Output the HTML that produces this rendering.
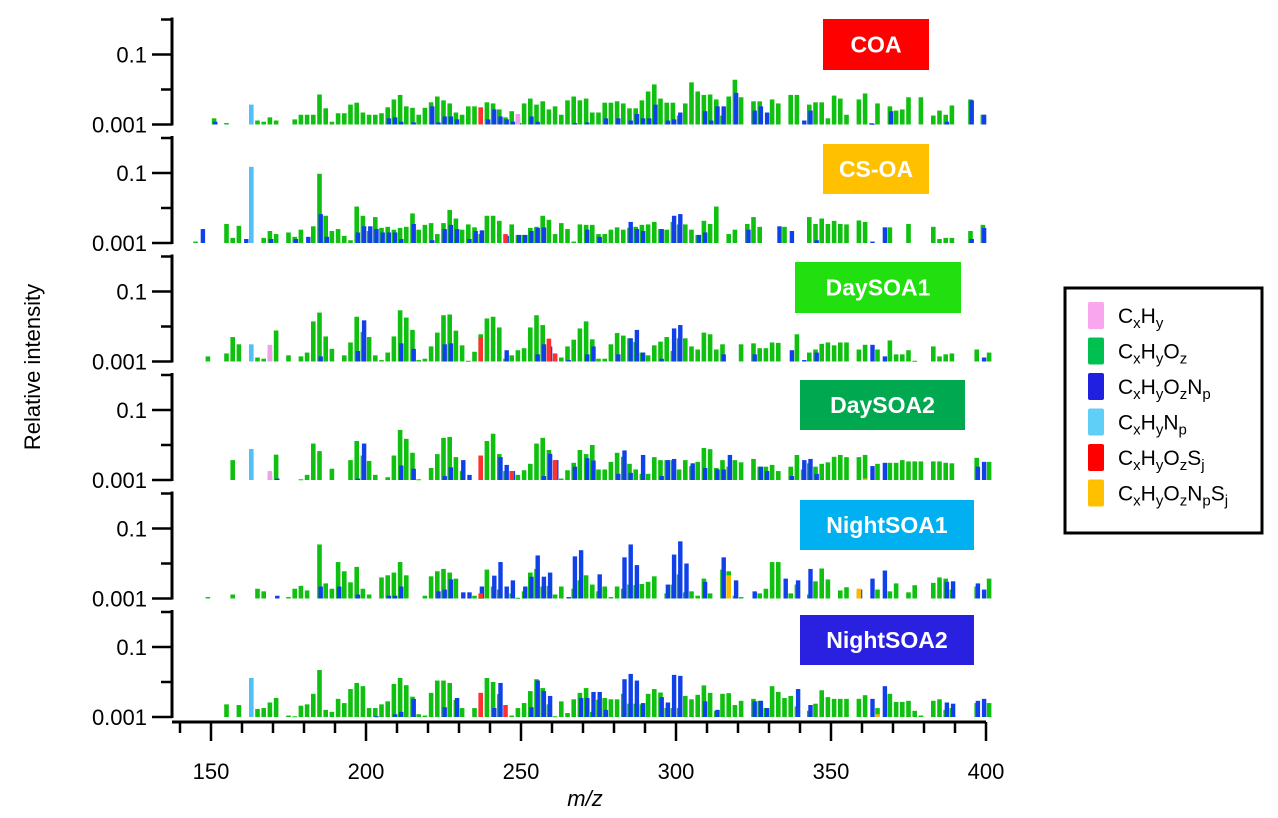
<!DOCTYPE html>
<html><head><meta charset="utf-8"><style>
body{margin:0;background:#fff;font-family:"Liberation Sans",Arial,sans-serif}
svg{display:block}
.lab{font-family:"Liberation Sans",Arial,sans-serif;font-size:22px;fill:#000}
.tag{font-family:"Liberation Sans",Arial,sans-serif;font-size:23px;font-weight:bold;fill:#fff}
.lg{font-family:"Liberation Sans",Arial,sans-serif;font-size:21px;fill:#000}
</style></head><body>
<svg id="chart" width="1278" height="818" viewBox="0 0 1278 818"></svg>
<script>
// intensities in units of 0.001 (relative intensity = value/1000); index i -> m/z = 143 + 2*i
const mzStart = 143, mzStep = 2, nBins = 130;
const panelNames = ["COA","CS-OA","DaySOA1","DaySOA2","NightSOA1","NightSOA2"];
const panelTagColors = ["#ff0000","#ffc000","#22e010","#00a850","#00b0f0","#2a20e0"];

const coaGreen = [0,0,0,0,1.5,0,1.1,0,0,0,0,1.3,1.2,1.6,1.3,0,0,1.4,1.9,1.9,1.9,7.2,2.9,1.2,2.1,2.1,3.7,4.2,2.2,1.9,1.9,2.1,3.1,5.2,7,3.3,3,1.9,3,4.3,6.3,4.9,4,2.2,1.9,3.3,3.3,0,4.3,4,2.7,1.6,2.4,1.6,4,5.5,3.7,4.6,2.7,3.3,1.9,4.9,6.3,4.9,5.5,2.2,2.2,4.2,4.2,4.6,4,2.9,2.9,4.9,8.8,14,5.5,4.2,4.2,1.8,4,16,8.8,7,7.2,5.2,1.8,6.3,19,6,0,4.6,4.6,0,5.2,4,0,7,7,0,3.7,4.3,4.3,1.5,6.7,5.5,1.9,0,5.2,7.7,1.1,4,0,3.3,2.5,2.7,6,0,6,0,1.8,2.5,1.9,3.5,0,0,5.2,0,1.9,0];
const coaBlue = {4:1.2,32:1.5,33:1.6,34:1.2,36:1.15,39:3.3,40:1.15,41:1.7,42:1.7,43:1.4,48:1.4,49:2.7,50:1.7,51:1.4,52:1.2,53:1.1,55:1.7,56:1.2,62:1.1,64:1.15,67:1.5,69:1.5,71:1.3,72:2,73:1.5,74:1.5,75:3.7,77:1.3,78:1.4,79:2.2,83:2.4,84:1.3,85:3.3,86:3.3,88:8,91:2.5,92:3.3,93:2.2,99:1.3,100:2.5,110:1.05,113:2.4,122:1.2,126:4.9,128:1.9};
const coaSpecIdx = [10,47,53];
const coaSpecVal = [3.7,3.1,2];
const coaSpecCls = ["cyan","red","pink"];

const csGreen = [0,1.1,0,0,0,0,3.5,1.4,3.1,0,0,0,1.4,2.2,1.8,0,2,1.5,2.4,0,3,95,6,2.2,2.5,1.6,1.2,11,6,2.2,5.5,2.7,2.9,2.4,2.7,2.9,7,2.4,3.3,3.7,1.8,3.7,8.8,5,2.4,3.4,2.8,1.8,6,6,4.3,0,3.4,1.7,1.7,2.7,2.9,6,4.6,1.8,3.7,2.5,1.1,3.4,3.3,3.3,1.8,1.8,2.4,2.8,2.4,2.7,2.9,3.3,3.4,4,2.5,2.4,4,3.4,3.4,2.4,1.7,4.3,3.5,11,0,1.8,2.4,0,3.5,5.5,2.9,0,0,0,2.9,0,0,0,5.5,3.5,5,3.5,4.3,3.5,3.4,0,4.4,4,0,0,0,2.8,0,0,3.5,0,0,0,2.9,1.3,1.4,1.4,0,0,2.2,0,3.3,0];
const csBlue = {2:2.5,9:1.3,13:1.3,17:1.3,19:1.5,21:6.7,22:1.5,27:2,28:3,29:3,30:2.5,31:2,32:2,33:2,34:1.3,36:3.5,39:1.2,41:2.5,42:3.3,43:2.5,45:1.3,46:2.2,47:2.3,51:1.6,53:1.7,54:1.7,55:2.2,56:2.7,57:2.8,64:2.4,66:1.5,71:4,72:2.5,73:2.2,76:2.5,78:6,79:6.7,82:1.7,83:2,90:2.4,95:3,97:2.2,101:1.2,110:1.1,112:2.8,126:1.3,128:2.7};
const csSpecIdx = [10,51];
const csSpecVal = [150,1.8];
const csSpecCls = ["cyan","red"];

const d1Green = [0,0,0,1.4,0,0,1.7,5,3.1,0,0,1.3,1.2,2,7.7,0,1.5,0,1.4,1.8,14,25,5.2,2.3,0,1.5,3.5,19,7,5,1.5,1.1,1.8,5.2,29,18,8,1.1,1.2,2.7,6.7,21,22,7.6,2.9,1.05,1.9,6,17,19,9.4,1.2,1.5,2.1,2.4,9.4,21,11,2.5,1.2,1.3,2.7,4.2,8.8,14,4.3,1.2,1.2,3.1,6.5,5.5,4.6,3.6,1.8,1.5,2.9,3.7,5,2,4.6,4.6,2.7,2.2,6.7,6,2.2,3.1,0,0,3.1,0,3.3,2.4,2.4,3.5,3.4,0,0,6,0,1.8,2.2,3.2,3.5,2.9,3.5,3.5,0,2.2,3,0,2.2,0,4,1.6,1.6,2.1,1.05,0,0,2.7,1.4,1.6,1.7,0,0,0,2.2,0,1.8];
const d1Blue = {21:1.4,27:2,28:15,34:3.3,36:2.3,41:3.1,42:3.3,51:2.1,56:1.6,57:3.1,58:2.7,61:1.1,64:1.6,65:2.7,69:1.6,71:4.6,72:8,73:1.8,76:1.2,78:8.8,79:11,86:1.6,91:1.6,97:2.1,99:1.1,101:1.8,110:3,112:1.4,128:1.3};
const d1SpecIdx = [10,13,47,58,59];
const d1SpecVal = [3.1,3,5,4.5,1.7];
const d1SpecCls = ["cyan","pink","red","red","red"];

const d2Green = [0,0,0,0,0,0,0,3.7,0,0,0,0,0,1.2,5.3,0,0,0,1.05,1.4,11,6.7,0,2.1,0,0,3.7,13,5,3.5,1.4,0,1.2,5,27,15,6,1.05,0,2.2,5.5,16,17,4.5,1.8,0,0,0,13,21,5.5,1.8,0,1.4,1.9,2.9,11,16,7.2,0,1.1,1.9,3.1,7.2,5.5,10,2,2,3.3,6,4.6,2.9,2,1.5,1.5,4.5,3.7,3.7,3.7,2,3.7,2.5,3.3,8.2,7.6,2.2,3.7,2.4,3.7,3.2,0,4,2.4,2.4,2.7,1.8,0,2.4,5.2,2,3,2.4,2.9,3.2,4.6,5.2,4.5,0,4.5,5.2,0,2.9,0,3.1,3.1,3.7,3.4,3.4,3.4,0,3.4,3.4,3.1,3,0,0,0,4.3,0,3.3];
const d2Blue = {14:1.1,27:1.1,28:11,34:2.6,36:2.1,41:1.3,42:2.3,44:3.7,45:1.4,50:4.5,51:2.7,52:1.8,57:1.3,58:5.6,59:3.7,62:2.4,64:4.2,65:3.6,69:1.5,70:7,71:1.6,73:5.2,76:1.3,77:3.7,78:4,81:3,83:2.2,85:2,86:2,87:5.2,92:2.4,93:1.8,97:1.3,99:3.7,100:4,101:1.5,110:2.5,112:3.1,127:2.4,128:3.3};
const d2SpecIdx = [10,13,47,52,59,109];
const d2SpecVal = [7.7,1.8,5,1.8,3.7,1.1];
const d2SpecCls = ["cyan","pink","red","red","red","orange"];

const n1Green = [0,0,0,1.1,0,0,0,1.3,0,0,0,1.9,1.6,0,0,0,1.1,1.9,2.3,1.7,0,35,2.7,1.9,11,6,2.9,8,1.9,1.3,0,4,4.6,5.5,11,4.6,0,0,1.2,4.3,6,7,5.5,3.7,0,0,1.2,1.05,6.7,2.2,1.8,0,1.4,1.05,1.6,5.5,7,2.2,2.3,1.3,2.2,0,1.9,3.3,4.6,2.5,1.6,2.2,1.1,2.2,1.9,2.5,2.4,2.6,3,4.3,0,1.4,2.5,4.9,1.5,1.6,1.2,3.7,1.4,0,6.7,6,1.2,1.1,0,0,1.4,1.9,11,11,0,1.4,2.5,0,1.3,3.1,7.2,3.5,0,1.7,2.1,0,1.6,0,0,1.8,0,1.6,2.7,0,1.5,2.4,0,0,2.8,4,3.7,1.8,0,0,0,2.2,0,3.7];
const n1Blue = {14:1.2,21:2.2,24:2.2,27:1.3,32:1.2,33:1.2,34:2.2,40:1.6,41:1.8,42:3.5,44:1.5,45:1.5,47:2.2,49:4.5,50:11,51:2.2,52:3.3,54:2.2,55:4.2,56:17,57:4.2,58:5.5,61:1.1,62:16,63:24,66:4.9,70:15,71:35,72:9,77:2.5,78:18,79:43,80:10,83:3,86:15,88:3.3,91:1.6,96:3.7,98:3.3,100:7,108:1.8,110:3.7,112:6.3,122:3,123:3.1,127:2.7,128:1.8};
const n1SpecIdx = [47,87,108];
const n1SpecVal = [1.4,4.6,1.9];
const n1SpecCls = ["red","orange","orange"];

const n2Green = [0,0,0,0,0,0,2.3,0,2.2,0,0,1.7,1.8,2.6,3.5,0,1.1,1.05,2.1,2.3,4.6,22,1.6,1.4,3.3,2.5,6.3,9.4,7.6,1.8,1.8,2.3,2.8,8.8,13,8.1,3.8,1.2,1.1,4.9,11,11,9.4,3.1,1.8,0,1.8,0,13,10,4.5,0,1.1,1.8,2.5,5.5,12,6.7,2.3,1.05,2.8,1.3,3.2,4.9,6.7,1.4,3.1,3.5,3.2,3.2,4.6,2.4,2.4,2.3,4.6,6.3,5,1.8,1.8,1.8,4,3.2,4.3,8,4.9,1.5,4.6,4.8,2.2,2.9,0,3.3,2.9,1.8,7.6,5.2,3.5,4,2,0,1.5,2.4,5.8,3.7,3.3,3.3,3.3,0,3.3,4.2,0,1.8,0,4.6,2.7,2.7,2.9,1.5,1.1,0,2.9,3.2,1.6,1.8,0,0,0,2.5,0,2.5];
const n2Blue = {30:1.05,33:1.2,34:1.4,36:3.3,41:1.9,43:3.5,49:1.8,50:9.4,55:1.9,56:11,57:5.5,58:4,63:3.5,64:3.5,65:5.2,66:5.2,67:1.6,70:12,71:17,72:11,73:2.5,76:3.7,77:2.6,78:16,79:15,83:2.8,85:1.6,91:2.8,92:2.9,93:1.8,98:6.3,100:2.2,110:3.3,112:7.6,122:2.6,123:2.4,127:2.9,128:3.3};
const n2SpecIdx = [10,47,51,111];
const n2SpecVal = [13,4.9,2.2,1.2];
const n2SpecCls = ["cyan","red","red","orange"];

const xTickLabels = [150,200,250,300,350,400];
const yTickLabels = ["0.001","0.1"];
const legendLabels = [["C","x","H","y"],["C","x","H","y","O","z"],["C","x","H","y","O","z","N","p"],["C","x","H","y","N","p"],["C","x","H","y","O","z","S","j"],["C","x","H","y","O","z","N","p","S","j"]];
const legendColors = ["#f9a6ef","#00c050","#2020e0","#60cff8","#ff0000","#ffc000"];

const colors = {green:"#10c010",blue:"#1040e8",cyan:"#50c0f8",red:"#ff3030",pink:"#f0a0e8",orange:"#ffb800"};
const panels = [
 [coaGreen,coaBlue,coaSpecIdx,coaSpecVal,coaSpecCls],
 [csGreen,csBlue,csSpecIdx,csSpecVal,csSpecCls],
 [d1Green,d1Blue,d1SpecIdx,d1SpecVal,d1SpecCls],
 [d2Green,d2Blue,d2SpecIdx,d2SpecVal,d2SpecCls],
 [n1Green,n1Blue,n1SpecIdx,n1SpecVal,n1SpecCls],
 [n2Green,n2Blue,n2SpecIdx,n2SpecVal,n2SpecCls]];
const baselines = [124.5,243,361.5,480,598.5,717];
const tagBoxes = [[823,19,106,51],[823,144,106,50],[795,262,166,51],[800,380,165,50],[800,500,174,50],[800,615,174,50]];

const NS = "http://www.w3.org/2000/svg";
const svg = document.getElementById("chart");
function mk(tag, attrs, parent){const e=document.createElementNS(NS,tag);for(const k in attrs)e.setAttribute(k,attrs[k]);(parent||svg).appendChild(e);return e;}
const xScale = m => 211 + (m-150)*3.1;
const yScale = (v,b) => b - 35*Math.log10(v);

panels.forEach((p,pi)=>{
  const b = baselines[pi];
  const g = mk("g",{});
  
  
  const sp = mk("line",{x1:172,y1:b-107,x2:172,y2:b+1,stroke:"#000","stroke-width":3},g);
  
  
  [[1,20],[10,11],[100,20],[1000,11]].forEach(([v,len])=>{
    const y = yScale(v,b);
    const t = mk("line",{x1:172-len,y1:y,x2:172,y2:y,stroke:"#000","stroke-width":2.5},g);
    
    
  });
  yTickLabels.forEach((lab,k)=>{
    const y = yScale(k===0?1:100,b);
    const t = mk("text",{x:147,y:y+8,"text-anchor":"end",class:"lab"},g);
    t.textContent = lab;
    
    
  });
  const [green,blue,sIdx,sVal,sCls] = p;
  green.forEach((v,i)=>{
    if(!v) return;
    const x = xScale(mzStart+mzStep*i), y = yScale(v,b);
    const r = mk("rect",{x:x-2.3,y:y,width:4.6,height:Math.max(b-y,1),fill:colors.green},g);
    
    
  });
  Object.keys(blue).forEach(k=>{
    const i=+k, v=blue[k];
    const x = xScale(mzStart+mzStep*i), y = yScale(v,b);
    const r = mk("rect",{x:x-1,y:y,width:4.4,height:Math.max(b-y,1),fill:colors.blue},g);
    
    
  });
  sIdx.forEach((i,k)=>{
    const x = xScale(mzStart+mzStep*i), y = yScale(sVal[k],b);
    const r = mk("rect",{x:x-2.3,y:y,width:4.6,height:Math.max(b-y,1),fill:colors[sCls[k]]},g);
    
    
  });
  const [tx,ty,tw,th] = tagBoxes[pi];
  const tb = mk("rect",{x:tx,y:ty,width:tw,height:th,fill:panelTagColors[pi]},g);
  
  
  const tt = mk("text",{x:tx+tw/2,y:ty+th/2+8,"text-anchor":"middle",class:"tag"},g);
  tt.textContent = panelNames[pi];
  
  
});

const xa = mk("line",{x1:172,y1:722,x2:986,y2:722,stroke:"#000","stroke-width":3});


for(let m=140;m<=400;m+=10){
  const major = m%50===0;
  const t = mk("line",{x1:xScale(m),y1:722,x2:xScale(m),y2:major?741:733,stroke:"#000","stroke-width":2.5});
  
  
}
xTickLabels.forEach(m=>{
  const t = mk("text",{x:xScale(m),y:779,"text-anchor":"middle",class:"lab"});
  t.textContent = m;
  
  
});
const xt = mk("text",{x:585,y:806,"text-anchor":"middle",class:"lab","font-style":"italic"});
xt.textContent = "m/z";


const yt = mk("text",{x:0,y:0,"text-anchor":"middle",class:"lab",transform:"translate(40,367) rotate(-90)"});
yt.textContent = "Relative intensity";



const lg = mk("g",{});


const lb = mk("rect",{x:1065,y:288,width:197,height:245,fill:"#fff",stroke:"#000","stroke-width":3},lg);


legendLabels.forEach((parts,k)=>{
  const cy = 316 + k*35.5;
  const sw = mk("rect",{x:1088,y:cy-14,width:16,height:27,rx:2,fill:legendColors[k]},lg);
  
  
  const t = mk("text",{x:1118,y:cy+7,class:"lg"},lg);
  
  
  for(let j=0;j<parts.length;j+=2){
    const a = mk("tspan",{},t); a.textContent = parts[j];
    const s = mk("tspan",{"font-size":"15px",dy:"5"},t); s.textContent = parts[j+1];
    const r = mk("tspan",{dy:"-5","font-size":"1px"},t); r.textContent = "\u200b";
  }
});
</script>
</body></html>
